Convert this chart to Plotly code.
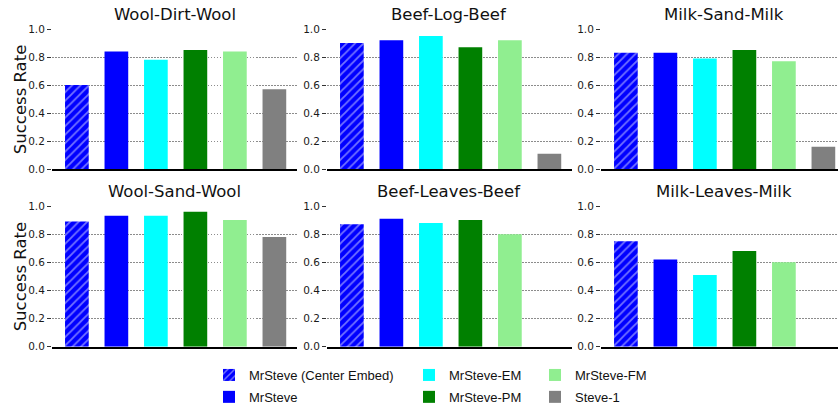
import plotly.graph_objects as go

W, H = 838, 404

tasks = ["Wool-Dirt-Wool", "Beef-Log-Beef", "Milk-Sand-Milk",
         "Wool-Sand-Wool", "Beef-Leaves-Beef", "Milk-Leaves-Milk"]
series_names = ["MrSteve (Center Embed)", "MrSteve", "MrSteve-EM",
                "MrSteve-PM", "MrSteve-FM", "Steve-1"]
ce = [0.60, 0.90, 0.83, 0.89, 0.87, 0.75]
mrsteve = [0.84, 0.92, 0.83, 0.93, 0.91, 0.62]
em = [0.78, 0.95, 0.79, 0.93, 0.88, 0.51]
pm = [0.85, 0.87, 0.85, 0.96, 0.90, 0.68]
fm = [0.84, 0.92, 0.77, 0.90, 0.80, 0.60]
steve1 = [0.57, 0.11, 0.16, 0.78, 0.00, 0.00]
series_values = [ce, mrsteve, em, pm, fm, steve1]
colors = ["#0000ff", "#0000ff", "#00ffff", "#008000", "#90ee90", "#808080"]
legend_ids = ["legend", "legend", "legend2", "legend2", "legend3", "legend3"]
ytick_vals = [0.0, 0.2, 0.4, 0.6, 0.8, 1.0]
y_title = "Success Rate"

# layout geometry (pixels)
col_px = [(52, 297), (327, 572), (601, 838)]
row_px = [(29, 169.3), (206, 346.7)]
ppu = 39.5
x0 = -0.63

fig = go.Figure()
layout = {}
for i, task in enumerate(tasks):
    r, c = divmod(i, 3)
    n = i + 1
    xa = "x" if n == 1 else f"x{n}"
    ya = "y" if n == 1 else f"y{n}"
    for s, name in enumerate(series_names):
        marker = dict(color=colors[s], line=dict(width=0))
        if s == 0:
            marker["pattern"] = dict(shape="/", fgcolor="#e6e6ff", bgcolor=colors[s],
                                     size=6, solidity=0.3, fillmode="overlay")
        fig.add_trace(go.Bar(
            x=[s], y=[series_values[s][i]], name=name, width=0.6,
            marker=marker, xaxis=xa, yaxis=ya,
            showlegend=(i == 0), legend=legend_ids[s], legendgroup=name,
        ))
    cx0, cx1 = col_px[c]
    ry0, ry1 = row_px[r]
    x1 = x0 + (cx1 - cx0) / ppu
    layout["xaxis" if n == 1 else f"xaxis{n}"] = dict(
        domain=[cx0 / W, cx1 / W], range=[x0, x1], anchor=ya, automargin=False,
        showticklabels=False, ticks="", showgrid=False, zeroline=False,
        showline=True, linecolor="#000000", linewidth=1.5,
    )
    layout["yaxis" if n == 1 else f"yaxis{n}"] = dict(
        domain=[1 - ry1 / H, 1 - ry0 / H], range=[0, 1.0], anchor=xa, automargin=False,
        tickvals=ytick_vals, tickformat=".1f", ticks="outside", ticklen=4,
        tickwidth=1, tickcolor="#333333", showline=False, zeroline=False,
        showgrid=True, gridcolor="#8c8c8c", griddash="1.5px,1.5px", gridwidth=0.9,
        tickfont=dict(family="DejaVu Sans", size=10.5, color="#1a1a1a"),
    )

# subplot titles (centered on full axes width)
title_centers = [174.5, 449.5, 723.5]
annotations = []
for i, task in enumerate(tasks):
    r, c = divmod(i, 3)
    annotations.append(dict(
        text=task, x=title_centers[c] / W, xref="paper",
        y=1 - (row_px[r][0] - 15) / H, yref="paper",
        xanchor="center", yanchor="middle", showarrow=False,
        font=dict(family="DejaVu Sans", size=16.5, color="#111111"),
    ))
# y-axis titles for the left column
for r in range(2):
    annotations.append(dict(
        text=y_title, textangle=-90, x=20 / W, xref="paper",
        y=1 - (row_px[r][0] + row_px[r][1]) / 2 / H, yref="paper",
        xanchor="center", yanchor="middle", showarrow=False,
        font=dict(family="DejaVu Sans", size=16.5, color="#111111"),
    ))

leg_common = dict(orientation="v", yanchor="top", xanchor="left", y=1 - 360 / H,
                  bgcolor="rgba(0,0,0,0)", tracegroupgap=2,
                  font=dict(family="Liberation Sans", size=13, color="#111111"))
layout["legend"] = dict(x=209 / W, **leg_common)
layout["legend2"] = dict(x=409 / W, **leg_common)
layout["legend3"] = dict(x=535 / W, **leg_common)

fig.update_layout(
    width=W, height=H, margin=dict(l=0, r=0, t=0, b=0, autoexpand=False),
    paper_bgcolor="white", plot_bgcolor="white",
    barmode="overlay", annotations=annotations, **layout,
)

fig.write_html("out.html", config={"displayModeBar": False},
               post_script="document.body.style.margin='0';document.body.style.overflow='hidden';")
